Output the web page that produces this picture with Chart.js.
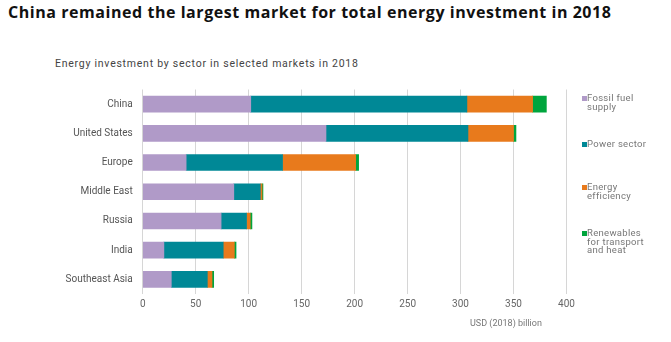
<!DOCTYPE html>
<html>
<head>
<meta charset="utf-8">
<script src="https://cdn.jsdelivr.net/npm/chart.js@4/dist/chart.umd.min.js"></script>
<style>
  body { margin: 0; background: #fff; width: 671px; height: 342px; overflow: hidden; position: relative; font-family: Roboto, sans-serif; }
  #title { position: absolute; left: 8px; top: 1px; font: 700 16px "Open Sans", sans-serif; letter-spacing: 0.55px; color: #111; white-space: nowrap; }
  #subtitle { position: absolute; left: 55px; top: 57px; font: 10.5px Roboto, sans-serif; letter-spacing: 0.75px; color: #444; white-space: nowrap; }
  #unit { position: absolute; left: 470px; top: 318px; font: 9px Roboto, sans-serif; color: #777; white-space: nowrap; }
  #chart { position: absolute; left: 0; top: 0; }
  .leg { position: absolute; left: 582px; font: 9.5px/8.5px Roboto, sans-serif; letter-spacing: 0.3px; color: #777; }
  .leg i { position: absolute; left: 0; top: 2px; width: 5px; height: 5px; }
  .leg span { display: block; margin-left: 5px; }
</style>
</head>
<body>
<div id="title">China remained the largest market for total energy investment in 2018</div>
<div id="subtitle">Energy investment by sector in selected markets in 2018</div>
<canvas id="chart" width="671" height="342"></canvas>
<div id="unit">USD (2018) billion</div>
<div id="legend"></div>
<script>
// markets, top to bottom
const markets = ['China', 'United States', 'Europe', 'Middle East', 'Russia', 'India', 'Southeast Asia'];

// USD (2018) billion
const fossilFuel = [102, 173, 41, 86, 74, 20, 27];
const powerSector = [204, 134, 91, 25, 24, 56, 34];
const efficiency = [62, 43, 69, 1.6, 3.5, 10.5, 4.4];
const renewables = [13, 2.3, 2.8, 0.9, 1.6, 1.6, 1.6];

const xTicks = [0, 50, 100, 150, 200, 250, 300, 350, 400];

const seriesNames = [['Fossil fuel', 'supply'], ['Power sector'], ['Energy', 'efficiency'], ['Renewables', 'for transport', 'and heat']];
const seriesColors = ['#b09ac8', '#008896', '#e87a1c', '#00a53d'];
const seriesData = [fossilFuel, powerSector, efficiency, renewables];

const legendTops = [94, 140, 183, 229];

// legend on the right, multi-line labels like the original
const legend = document.getElementById('legend');
seriesNames.forEach((lines, i) => {
    const item = document.createElement('div');
    item.className = 'leg';
    item.style.top = legendTops[i] + 'px';
    item.innerHTML = `<i style="background:${seriesColors[i]}"></i>` + lines.map(l => `<span>${l}</span>`).join('');
    legend.appendChild(item);
});

new Chart(document.getElementById('chart'), {
    type: 'bar',
    data: {
        labels: markets,
        datasets: seriesData.map((d, i) => ({
            label: seriesNames[i].join(' '),
            data: d,
            backgroundColor: seriesColors[i],
            borderWidth: 0,
            barThickness: 16
        }))
    },
    options: {
        indexAxis: 'y',
        responsive: false,
        animation: false,
        layout: { padding: { top: 89.5, right: 104.5, left: 0, bottom: 0 } },
        plugins: { legend: { display: false }, tooltip: { enabled: false } },
        scales: {
            x: {
                stacked: true,
                min: 0,
                max: 400,
                afterFit: s => { s.height = 48; },
                afterBuildTicks: s => { s.ticks = xTicks.map(v => ({ value: v })); },
                grid: { color: '#d6d6d6', lineWidth: 1, drawTicks: false },
                border: { display: false },
                ticks: { padding: 4, color: '#666', font: { family: 'Roboto', size: 10 } }
            },
            y: {
                stacked: true,
                afterFit: s => { s.width = 142.7; },
                grid: { display: false, drawTicks: false },
                border: { display: false },
                ticks: { padding: 10, color: '#555', font: { family: 'Roboto', size: 10 } }
            }
        }
    }
});
</script>
</body>
</html>
